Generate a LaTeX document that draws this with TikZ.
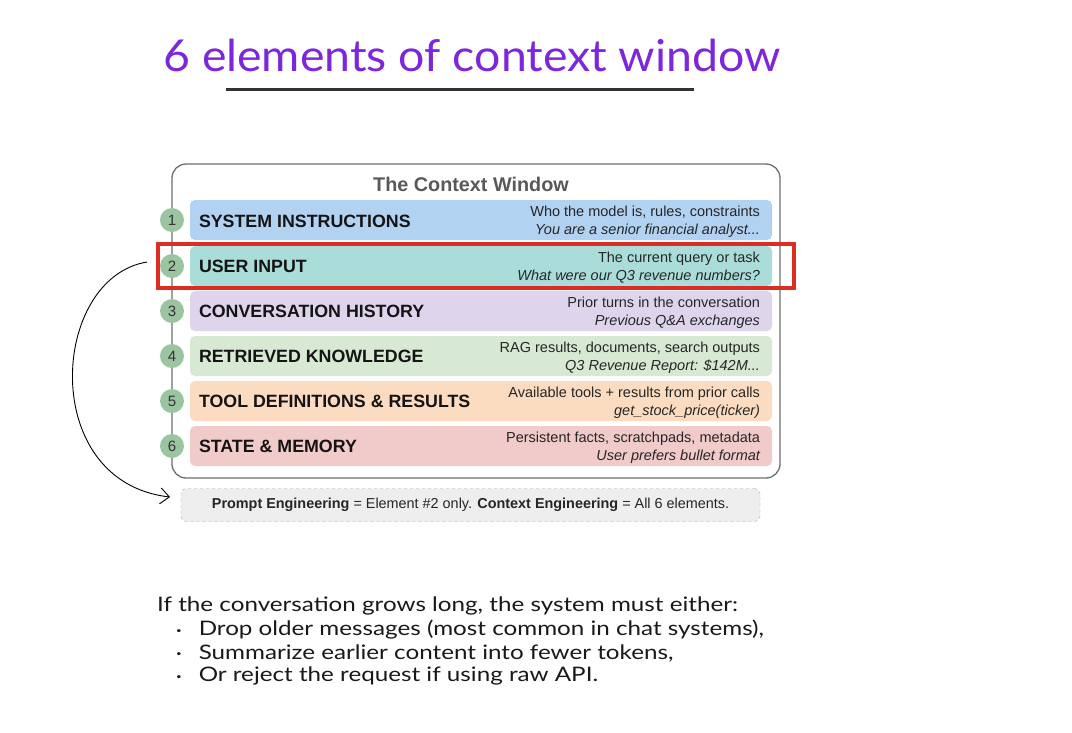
\documentclass[tikz,border=0pt]{standalone}
\usepackage{fontspec}
\setmainfont{Liberation Sans}
\newfontfamily\handfont{Lato}
\usetikzlibrary{arrows.meta,calc}
\definecolor{titlepurple}{RGB}{126,38,220}
\definecolor{rowblue}{RGB}{178,210,242}
\definecolor{rowteal}{RGB}{170,221,218}
\definecolor{rowlav}{RGB}{222,213,237}
\definecolor{rowgreen}{RGB}{215,233,210}
\definecolor{roworange}{RGB}{251,220,192}
\definecolor{rowpink}{RGB}{241,202,202}
\definecolor{numgreen}{RGB}{155,197,160}
\definecolor{hlred}{RGB}{220,45,35}
\definecolor{frame}{RGB}{110,110,110}
\definecolor{notefill}{RGB}{238,238,238}
\newcommand{\hbul}{\raisebox{2.5pt}{\fontsize{8}{8}\selectfont\textbullet}}
\begin{document}
\begin{tikzpicture}[x=1pt,y=-1pt,
  rowbox/.style={rounded corners=5pt, minimum width=582pt, minimum height=40pt, inner sep=0pt},
  rowlabel/.style={anchor=west, font=\fontsize{17.8}{18}\selectfont\bfseries, text=black!92, inner sep=0pt},
  rowdesc/.style={anchor=east, align=right, font=\fontsize{14.5}{18}\selectfont, text=black!85, inner sep=0pt},
  numdot/.style={circle, fill=numgreen, minimum size=24pt, inner sep=0pt, font=\fontsize{15}{15}\selectfont, text=black!80},
  handline/.style={anchor=west, inner sep=0pt, font=\handfont\fontsize{20}{22}\selectfont, text=black!90},
  conn/.style={draw=black, line width=0.9pt, -{Straight Barb[length=9pt,width=16pt]}}
]
\useasboundingbox (0,0) rectangle (1072,732);
\fill[white] (0,0) rectangle (1072,732);

% title
\node[text=titlepurple, font=\handfont\fontsize{44}{46}\selectfont, anchor=west, inner sep=0pt] (title) at (163,55) {\scalebox{1.055}[1]{6 elements of context window}};
\draw[line width=3pt, black!80] (226,89) coordinate (ul1) -- (694,89) coordinate (ul2);

% outer frame
\node[draw=frame, line width=1.3pt, rounded corners=14pt, minimum width=608pt, minimum height=314pt, inner sep=0pt] (frame) at (476,321) {};
\node[font=\fontsize{19.8}{20}\selectfont\bfseries, text=black!65] (wtitle) at (471,184) {The Context Window};

% rows
\node[rowbox, fill=rowblue] (r1) at (481,220) {};
\node[rowbox, fill=rowteal] (r2) at (481,266) {};
\node[rowbox, fill=rowlav] (r3) at (481,311) {};
\node[rowbox, fill=rowgreen] (r4) at (481,356) {};
\node[rowbox, fill=roworange] (r5) at (481,401) {};
\node[rowbox, fill=rowpink] (r6) at (481,446) {};

\node[rowlabel] (l1) at ($(r1.west)+(9,1)$) {SYSTEM INSTRUCTIONS};
\node[rowlabel] (l2) at ($(r2.west)+(9,0)$) {USER INPUT};
\node[rowlabel] (l3) at ($(r3.west)+(9,0)$) {CONVERSATION HISTORY};
\node[rowlabel] (l4) at ($(r4.west)+(9,0)$) {RETRIEVED KNOWLEDGE};
\node[rowlabel] (l5) at ($(r5.west)+(9,0)$) {TOOL DEFINITIONS \& RESULTS};
\node[rowlabel] (l6) at ($(r6.west)+(9,0)$) {STATE \& MEMORY};

\node[rowdesc] (d1) at ($(r1.east)+(-12,1.5)$) {Who the model is, rules, constraints\\\itshape You are a senior financial analyst...};
\node[rowdesc] (d2) at ($(r2.east)+(-12,1.5)$) {The current query or task\\\itshape What were our Q3 revenue numbers?};
\node[rowdesc] (d3) at ($(r3.east)+(-12,1.5)$) {Prior turns in the conversation\\\itshape Previous Q\&A exchanges};
\node[rowdesc] (d4) at ($(r4.east)+(-12,1.5)$) {RAG results, documents, search outputs\\\itshape Q3 Revenue Report: \$142M...};
\node[rowdesc] (d5) at ($(r5.east)+(-12,1.5)$) {Available tools + results from prior calls\\\itshape get\_stock\_price(ticker)};
\node[rowdesc] (d6) at ($(r6.east)+(-12,1.5)$) {Persistent facts, scratchpads, metadata\\\itshape User prefers bullet format};

% numbers
\node[numdot] (n1) at (172,220) {1};
\node[numdot] (n2) at (172,266) {2};
\node[numdot] (n3) at (172,311) {3};
\node[numdot] (n4) at (172,356) {4};
\node[numdot] (n5) at (172,401) {5};
\node[numdot] (n6) at (172,446) {6};

% highlight
\node[draw=hlred, line width=4.5pt, minimum width=636pt, minimum height=44pt, inner sep=0pt] (hl) at (476,266) {};

% note
\node[draw=black!35, dashed, fill=notefill, rounded corners=5pt, minimum width=579pt, minimum height=33pt, inner sep=0pt, font=\fontsize{14.4}{16}\selectfont, text=black!85] (note) at (470.5,505) {\textbf{Prompt Engineering} = Element \#2 only. \textbf{Context Engineering} = All 6 elements.};

% arrow
\coordinate (astart) at (147,262);
\coordinate (aend) at (170,497);
\draw[conn] (astart) .. controls (50,278) and (38,482) .. (aend);

% bottom text
\node[handline] (t0) at (157,606) {\scalebox{1.21}[1]{If the conversation grows long, the system must either:}};
\node[handline] (t1) at (176,630) {\scalebox{1.21}[1]{\hbul\hspace{14pt}Drop older messages (most common in chat systems),}};
\node[handline] (t2) at (176,653) {\scalebox{1.21}[1]{\hbul\hspace{14pt}Summarize earlier content into fewer tokens,}};
\node[handline] (t3) at (176,676) {\scalebox{1.21}[1]{\hbul\hspace{14pt}Or reject the request if using raw API.}};
\end{tikzpicture}
\end{document}
